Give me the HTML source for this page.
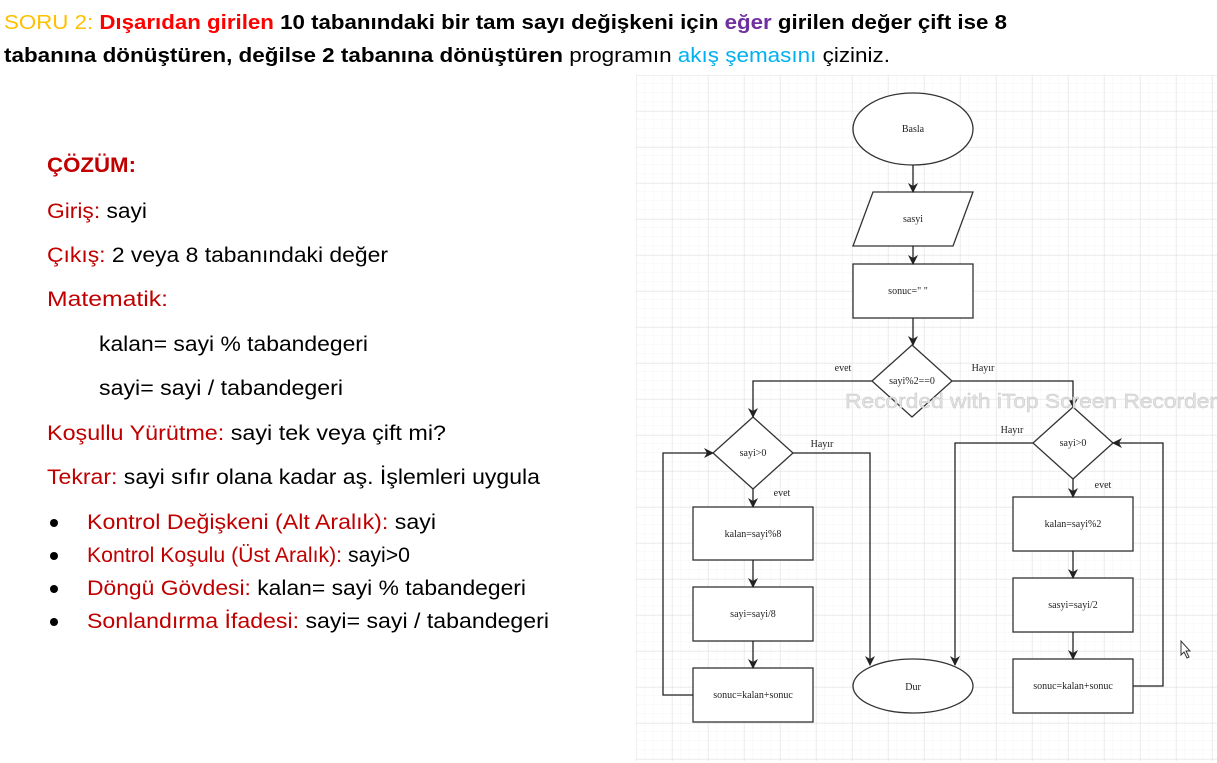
<!DOCTYPE html>
<html><head><meta charset="utf-8"><style>
html,body{margin:0;padding:0;background:#fff;width:1217px;height:763px;overflow:hidden}
svg{display:block}
</style></head><body>
<svg width="1217" height="763" xmlns="http://www.w3.org/2000/svg" font-family="Liberation Sans, sans-serif">
<defs>
<pattern id="minor" width="9" height="9" patternUnits="userSpaceOnUse" x="636" y="75">
<path d="M9 0V9M0 9H9" stroke="#f4f4f4" stroke-width="1" fill="none"/>
</pattern>
<pattern id="major" width="36" height="36" patternUnits="userSpaceOnUse" x="636" y="75">
<path d="M0 0V36M0 0H36" stroke="#e0e0e0" stroke-width="1" fill="none"/>
</pattern>
<marker id="a" markerWidth="10" markerHeight="10" refX="9" refY="5" orient="auto" markerUnits="userSpaceOnUse">
<path d="M0 0L10 5L0 10L3 5Z" fill="#222"/>
</marker>
</defs>
<text x="4" y="29" font-size="20" font-weight="bold" textLength="1003" lengthAdjust="spacingAndGlyphs"><tspan fill="#ffc000" font-weight="normal">SORU 2: </tspan><tspan fill="#ff0000">Dışarıdan girilen</tspan><tspan fill="#000"> 10 tabanındaki bir tam sayı değişkeni için </tspan><tspan fill="#7030a0">eğer</tspan><tspan fill="#000"> girilen değer çift ise 8</tspan></text>
<text x="4" y="62" font-size="20" textLength="886" lengthAdjust="spacingAndGlyphs"><tspan font-weight="bold">tabanına dönüştüren, değilse 2 tabanına dönüştüren</tspan> programın <tspan fill="#00b0f0">akış şemasını</tspan> çiziniz.</text>
<g font-size="21" fill="#000">
<text x="47" y="172" font-weight="bold" fill="#c00000" textLength="89" lengthAdjust="spacingAndGlyphs">ÇÖZÜM:</text>
<text x="47" y="218" textLength="100" lengthAdjust="spacingAndGlyphs"><tspan fill="#c00000">Giriş:</tspan> sayi</text>
<text x="47" y="262" textLength="341" lengthAdjust="spacingAndGlyphs"><tspan fill="#c00000">Çıkış:</tspan> 2 veya 8 tabanındaki değer</text>
<text x="47" y="306" fill="#c00000" textLength="121" lengthAdjust="spacingAndGlyphs">Matematik:</text>
<text x="99" y="351" textLength="269" lengthAdjust="spacingAndGlyphs">kalan= sayi % tabandegeri</text>
<text x="99" y="395" textLength="244" lengthAdjust="spacingAndGlyphs">sayi= sayi / tabandegeri</text>
<text x="47" y="440" textLength="399" lengthAdjust="spacingAndGlyphs"><tspan fill="#c00000">Koşullu Yürütme:</tspan> sayi tek veya çift mi?</text>
<text x="47" y="484" textLength="493" lengthAdjust="spacingAndGlyphs"><tspan fill="#c00000">Tekrar:</tspan> sayi sıfır olana kadar aş. İşlemleri uygula</text>
<circle cx="54" cy="523" r="4"/><circle cx="54" cy="556" r="4"/><circle cx="54" cy="589" r="4"/><circle cx="54" cy="622" r="4"/>
<text x="87" y="529" textLength="349" lengthAdjust="spacingAndGlyphs"><tspan fill="#c00000">Kontrol Değişkeni (Alt Aralık):</tspan> sayi</text>
<text x="87" y="562" textLength="323" lengthAdjust="spacingAndGlyphs"><tspan fill="#c00000">Kontrol Koşulu (Üst Aralık):</tspan> sayi&gt;0</text>
<text x="87" y="595" textLength="439" lengthAdjust="spacingAndGlyphs"><tspan fill="#c00000">Döngü Gövdesi:</tspan> kalan= sayi % tabandegeri</text>
<text x="87" y="628" textLength="462" lengthAdjust="spacingAndGlyphs"><tspan fill="#c00000">Sonlandırma İfadesi:</tspan> sayi= sayi / tabandegeri</text>
</g>
<rect x="636" y="75" width="581" height="686" fill="url(#minor)"/>
<rect x="636" y="75" width="581" height="686" fill="url(#major)"/>
<g fill="#fff" stroke="#333" stroke-width="1.3">
<ellipse cx="913" cy="129" rx="60" ry="36"/>
<polygon points="873,192 973,192 953,246 853,246"/>
<rect x="853" y="264" width="120" height="54"/>
<polygon points="912,345 952,381 912,417 872,381"/>
<polygon points="753,417 793,453 753,489 713,453"/>
<polygon points="1073,407 1113,443 1073,479 1033,443"/>
<rect x="693" y="507" width="120" height="53"/>
<rect x="693" y="587" width="120" height="54"/>
<rect x="693" y="668" width="120" height="54"/>
<rect x="1013" y="497" width="120" height="54"/>
<rect x="1013" y="578" width="120" height="54"/>
<rect x="1013" y="659" width="120" height="54"/>
<ellipse cx="913" cy="686" rx="60" ry="27"/>
</g>
<g fill="none" stroke="#222" stroke-width="1.3" marker-end="url(#a)">
<path d="M913 165V192"/>
<path d="M913 246V264"/>
<path d="M913 318V345"/>
<path d="M872 381H753V417"/>
<path d="M952 381H1073V407"/>
<path d="M753 489V507"/>
<path d="M753 560V587"/>
<path d="M753 641V668"/>
<path d="M693 695H663V453H713"/>
<path d="M793 453H870V665"/>
<path d="M1033 443H955V665"/>
<path d="M1073 479V497"/>
<path d="M1073 551V578"/>
<path d="M1073 632V659"/>
<path d="M1133 686H1163V443H1113"/>
</g>
<g font-family="Liberation Serif, serif" font-size="10" fill="#222" text-anchor="middle">
<text x="913" y="132">Basla</text>
<text x="913" y="222">sasyi</text>
<text x="908" y="294">sonuc="     "</text>
<text x="912" y="384">sayi%2==0</text>
<text x="753" y="456">sayi&gt;0</text>
<text x="1073" y="446">sayi&gt;0</text>
<text x="753" y="537">kalan=sayi%8</text>
<text x="753" y="617">sayi=sayi/8</text>
<text x="753" y="698">sonuc=kalan+sonuc</text>
<text x="1073" y="527">kalan=sayi%2</text>
<text x="1073" y="608">sasyi=sayi/2</text>
<text x="1073" y="689">sonuc=kalan+sonuc</text>
<text x="913" y="690">Dur</text>
<text x="843" y="371">evet</text>
<text x="983" y="371">Hayır</text>
<text x="822" y="447">Hayır</text>
<text x="782" y="496">evet</text>
<text x="1012" y="433">Hayır</text>
<text x="1103" y="488">evet</text>
</g>
<text x="845" y="408" font-size="20" fill="#e2e2e2" stroke="#c4c4c4" stroke-width="0.4" textLength="372" lengthAdjust="spacingAndGlyphs">Recorded with iTop Screen Recorder</text>
<path d="M1181 641V655L1184 652L1187 658L1189 657L1186 651L1190 651Z" fill="#fff" stroke="#333" stroke-width="1"/>
</svg>
</body></html>
